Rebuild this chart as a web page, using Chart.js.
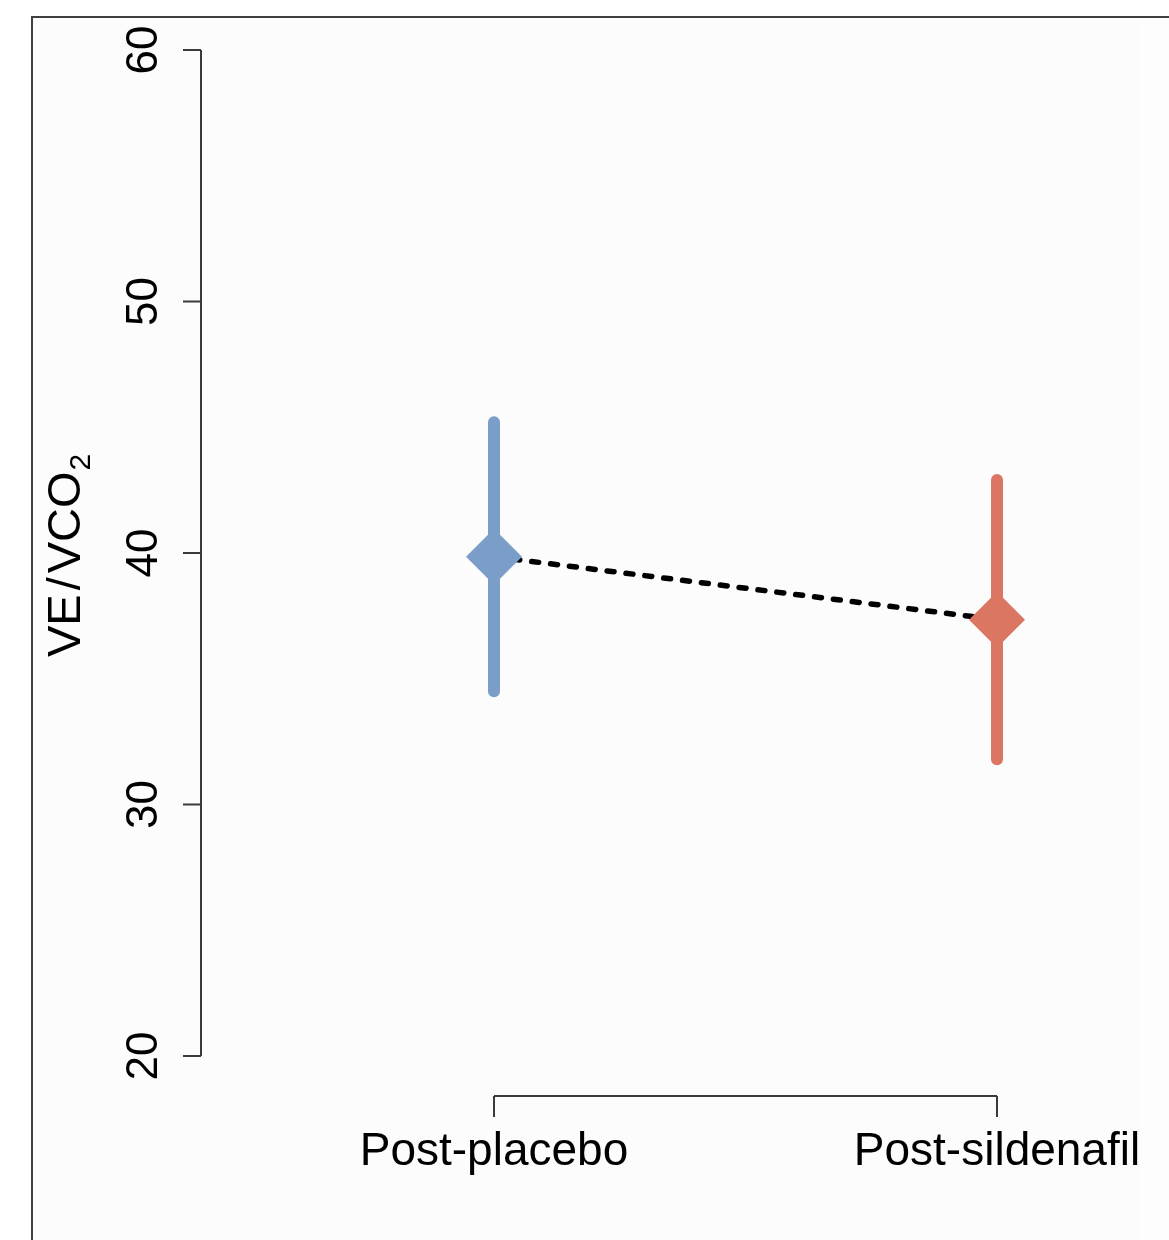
<!DOCTYPE html>
<html>
<head>
<meta charset="utf-8">
<script src="https://cdn.jsdelivr.net/npm/chart.js@4.4.1/dist/chart.umd.min.js"></script>
<style>
  html, body { margin: 0; padding: 0; background: #ffffff; }
  canvas { display: block; }
</style>
</head>
<body>
<canvas id="c" width="1169" height="1240"></canvas>
<script>
// ---- data ----
const categories = ['Post-placebo', 'Post-sildenafil'];
const categoryX = [1, 2];
const means = [39.85, 37.35];
const lowerCI = [34.5, 31.8];
const upperCI = [45.2, 42.9];
const yTicks = [20, 30, 40, 50, 60];
const seriesColors = ['#7B9EC9', '#DA7662'];

// ---- datasets built from the arrays ----
const datasets = [];
// diamonds (on top)
datasets.push({
  type: 'scatter',
  data: categoryX.map((x, i) => ({ x: x, y: means[i] })),
  pointStyle: 'rectRot',
  pointRadius: 28,
  pointHoverRadius: 28,
  pointBackgroundColor: seriesColors,
  pointBorderWidth: 0,
  borderWidth: 0,
  showLine: false,
  order: 0
});
// error bars
categoryX.forEach((x, i) => {
  datasets.push({
    type: 'scatter',
    data: [{ x: x, y: lowerCI[i] }, { x: x, y: upperCI[i] }],
    showLine: true,
    borderColor: seriesColors[i],
    borderWidth: 12,
    borderCapStyle: 'round',
    pointRadius: 0,
    order: 1
  });
});
// dashed connector
datasets.push({
  type: 'scatter',
  data: categoryX.map((x, i) => ({ x: x, y: means[i] })),
  showLine: true,
  borderColor: '#000000',
  borderWidth: 5.5,
  borderDash: [7, 12],
  borderCapStyle: 'round',
  pointRadius: 0,
  order: 2
});

const FONT = '"Liberation Sans", Arial, Helvetica, sans-serif';
const AXIS_COLOR = '#3a3a3a';

const rAxesPlugin = {
  id: 'rAxes',
  beforeDraw(chart) {
    const ctx = chart.ctx;
    ctx.save();
    ctx.fillStyle = '#ffffff';
    ctx.fillRect(0, 0, chart.width, chart.height);
    ctx.fillStyle = '#fdfdfd';
    ctx.fillRect(33, 18, chart.width - 33, chart.height - 18);
    ctx.fillStyle = '#fcfcfc';
    ctx.fillRect(34, 19, 1140 - 34, chart.height - 19);
    // frame
    ctx.strokeStyle = '#404040';
    ctx.lineWidth = 2;
    ctx.beginPath();
    ctx.moveTo(32, chart.height);
    ctx.lineTo(32, 17);
    ctx.lineTo(chart.width, 17);
    ctx.stroke();
    ctx.restore();
  },
  afterDraw(chart) {
    const ctx = chart.ctx;
    const ys = chart.scales.y;
    const xs = chart.scales.x;
    ctx.save();
    ctx.strokeStyle = AXIS_COLOR;
    ctx.lineWidth = 2;
    ctx.fillStyle = '#000000';

    // y axis (R style)
    const axX = 201;
    const yTop = ys.getPixelForValue(yTicks[yTicks.length - 1]);
    const yBot = ys.getPixelForValue(yTicks[0]);
    ctx.beginPath();
    ctx.moveTo(axX, yTop);
    ctx.lineTo(axX, yBot);
    yTicks.forEach(v => {
      const py = ys.getPixelForValue(v);
      ctx.moveTo(axX, py);
      ctx.lineTo(axX - 18, py);
    });
    ctx.stroke();
    ctx.font = '44px ' + FONT;
    ctx.textAlign = 'center';
    ctx.textBaseline = 'alphabetic';
    yTicks.forEach(v => {
      const py = ys.getPixelForValue(v);
      ctx.save();
      ctx.translate(157, py);
      ctx.rotate(-Math.PI / 2);
      ctx.fillText(String(v), 0, 0);
      ctx.restore();
    });

    // x axis bracket
    const axY = 1096;
    const x0 = xs.getPixelForValue(categoryX[0]);
    const x1 = xs.getPixelForValue(categoryX[categoryX.length - 1]);
    ctx.beginPath();
    ctx.moveTo(x0, axY);
    ctx.lineTo(x1, axY);
    categoryX.forEach(x => {
      const px = xs.getPixelForValue(x);
      ctx.moveTo(px, axY);
      ctx.lineTo(px, axY + 21);
    });
    ctx.stroke();
    ctx.font = '46px ' + FONT;
    ctx.textAlign = 'center';
    categoryX.forEach((x, i) => {
      ctx.fillText(categories[i], xs.getPixelForValue(x), 1165);
    });

    // y axis title VE/VCO2 (rotated, subscript 2)
    ctx.save();
    ctx.translate(80, 657);
    ctx.rotate(-Math.PI / 2);
    ctx.textAlign = 'left';
    ctx.font = '47px ' + FONT;
    const parts = ['VE', '/', 'VCO'];
    let pos = 0;
    parts.forEach((p, k) => {
      ctx.fillText(p, pos, 0);
      pos += ctx.measureText(p).width + (k < parts.length - 1 ? 4 : 0);
    });
    ctx.font = '30px ' + FONT;
    ctx.fillText('2', pos + 1, 10);
    ctx.restore();

    ctx.restore();
  }
};

new Chart(document.getElementById('c'), {
  type: 'scatter',
  data: { datasets: datasets },
  options: {
    responsive: false,
    animation: false,
    events: [],
    layout: { padding: { left: 242.5, right: 71.4, top: 50, bottom: 184 } },
    plugins: { legend: { display: false }, tooltip: { enabled: false } },
    scales: {
      x: { type: 'linear', min: 0.5, max: 2.2, display: false },
      y: { type: 'linear', min: yTicks[0], max: yTicks[yTicks.length - 1], display: false }
    }
  },
  plugins: [rAxesPlugin]
});
</script>
</body>
</html>
